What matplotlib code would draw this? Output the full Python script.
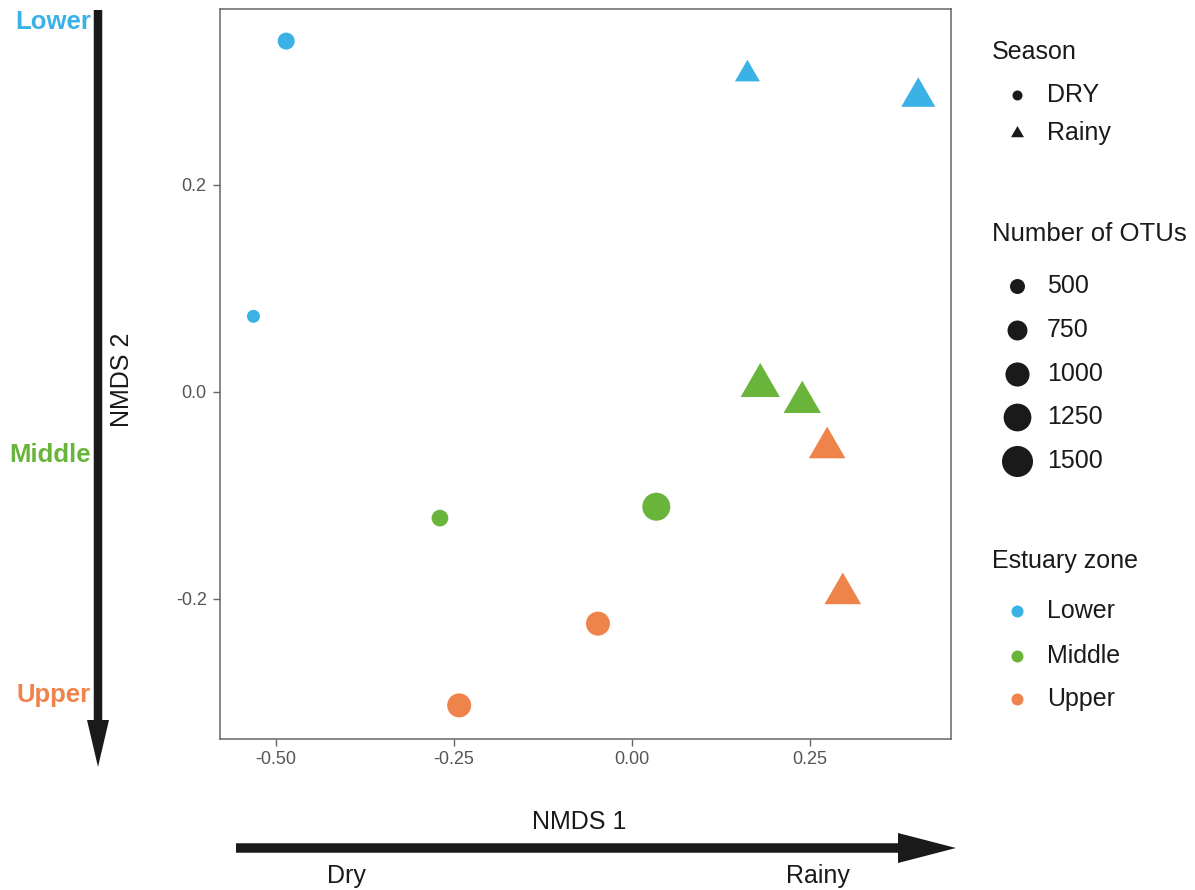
import numpy as np
import matplotlib
matplotlib.use("Agg")
import matplotlib.pyplot as plt
from matplotlib.path import Path

plt.rcParams['font.family'] = ['Liberation Sans', 'DejaVu Sans']

# ---------------- data ----------------
zone = ["Lower", "Lower", "Lower", "Lower",
        "Middle", "Middle", "Middle", "Middle",
        "Upper", "Upper", "Upper", "Upper"]
season = ["DRY", "DRY", "Rainy", "Rainy",
          "DRY", "DRY", "Rainy", "Rainy",
          "DRY", "DRY", "Rainy", "Rainy"]
nmds1 = [-0.486, -0.532, 0.162, 0.402,
         -0.270, 0.034, 0.180, 0.239,
         -0.048, -0.243, 0.274, 0.296]
nmds2 = [0.339, 0.073, 0.307, 0.285,
         -0.122, -0.111, 0.006, -0.010,
         -0.224, -0.303, -0.054, -0.195]
otus = [595, 412, 677, 1080,
        580, 1268, 1357, 1247,
        994, 994, 1210, 1210]

zone_levels = ["Lower", "Middle", "Upper"]
zone_colors = ["#3BB2E6", "#69B43A", "#EE844B"]
season_levels = ["DRY", "Rainy"]
otu_breaks = [500, 750, 1000, 1250, 1500]
x_ticks = [-0.50, -0.25, 0.00, 0.25]
y_ticks = [-0.2, 0.0, 0.2]

# ---------------- helpers ----------------
W, H, DPI = 1195, 890, 100
PX2PT = 72.0 / DPI

TRI = Path([(0, 1), (-np.sqrt(3) / 2, -0.5), (np.sqrt(3) / 2, -0.5), (0, 1)],
           [Path.MOVETO, Path.LINETO, Path.LINETO, Path.CLOSEPOLY])


def diam_px(n):
    return 0.98 * np.sqrt(np.asarray(n, float)) - 6.9


def marker_s(n, shape):
    d = diam_px(n)
    if shape == "Rainy":
        d = d * 1.555  # triangle circumradius equals 0.777 * circle diameter
    return (d * PX2PT) ** 2


marker_of = {"DRY": "o", "Rainy": TRI}
col_of = dict(zip(zone_levels, zone_colors))

fig = plt.figure(figsize=(W / DPI, H / DPI), dpi=DPI)
fig.patch.set_facecolor("white")

# main axes in pixel layout
L, R, T, B = 220, 951, 8.5, 738.5
ax = fig.add_axes([L / W, 1 - B / H, (R - L) / W, (B - T) / H])
ax.set_xlim(-0.579, 0.448)
ax.set_ylim(-0.335, 0.3705)

z = np.array(zone)
se = np.array(season)
x = np.array(nmds1)
y = np.array(nmds2)
o = np.array(otus)
for zl in zone_levels:
    for sl in season_levels:
        m = (z == zl) & (se == sl)
        if m.any():
            ax.scatter(x[m], y[m], s=marker_s(o[m], sl), marker=marker_of[sl],
                       color=col_of[zl], linewidths=0, zorder=3)

ax.set_xticks(x_ticks)
ax.set_xticklabels([f"{v:.2f}" for v in x_ticks])
ax.set_yticks(y_ticks)
ax.set_yticklabels([f"{v:.1f}" for v in y_ticks])
for sp in ax.spines.values():
    sp.set_color("#666666")
    sp.set_linewidth(1.1)
ax.tick_params(colors="#666666", labelcolor="#555555", labelsize=13,
               length=4.8, width=1.0)
ax.tick_params(axis="y", pad=4.8)
ax.tick_params(axis="x", pad=4)

# overlay axes in pixel coordinates for annotations / legends
ov = fig.add_axes([0, 0, 1, 1], zorder=5)
ov.set_xlim(0, W)
ov.set_ylim(H, 0)
ov.axis("off")
ov.patch.set_alpha(0)

dark = "#1a1a1a"
# vertical arrow
ov.arrow(98, 10, 0, 757, width=8.5, head_width=22, head_length=47,
         length_includes_head=True, color=dark, linewidth=0)
# horizontal arrow
ov.arrow(236, 848, 720, 0, width=9.5, head_width=30, head_length=58,
         length_includes_head=True, color=dark, linewidth=0)

fs = 18
ov.text(122, 380, "NMDS 2", rotation=90, ha="center", va="center", fontsize=fs, color=dark)
ov.text(579, 822, "NMDS 1", ha="center", va="center", fontsize=fs, color=dark)
ov.text(346, 876, "Dry", ha="center", va="center", fontsize=fs, color=dark)
ov.text(818, 876, "Rainy", ha="center", va="center", fontsize=fs, color=dark)

zone_label_y = [22, 455, 695]
for zl, c, yy in zip(zone_levels, zone_colors, zone_label_y):
    ov.text(91, yy, zl, ha="right", va="center", fontsize=18.5, fontweight="bold", color=c)

# ---- legends ----
lx_title, lx_mark, lx_lab = 992, 1017, 1047
ov.text(lx_title, 52, "Season", ha="left", va="center", fontsize=fs, color=dark)
season_y = [95, 133]
for sl, yy in zip(season_levels, season_y):
    if sl == "DRY":
        ov.scatter([lx_mark], [yy], s=(10 * PX2PT) ** 2, marker="o", color=dark, linewidths=0)
    else:
        ov.scatter([lx_mark], [yy], s=(15 * PX2PT) ** 2, marker=TRI, color=dark, linewidths=0)
    ov.text(lx_lab, yy, sl, ha="left", va="center", fontsize=fs, color=dark)

ov.text(lx_title, 234, "Number of OTUs", ha="left", va="center", fontsize=18.5, color=dark)
otu_y = [286, 330, 374, 417, 461]
for b, yy in zip(otu_breaks, otu_y):
    ov.scatter([lx_mark], [yy], s=marker_s(b, "DRY"), marker="o", color=dark, linewidths=0)
    ov.text(lx_lab, yy, str(b), ha="left", va="center", fontsize=fs, color=dark)

ov.text(lx_title, 561, "Estuary zone", ha="left", va="center", fontsize=fs, color=dark)
zone_y = [611, 656, 699]
for zl, c, yy in zip(zone_levels, zone_colors, zone_y):
    ov.scatter([lx_mark], [yy], s=(12 * PX2PT) ** 2, marker="o", color=c, linewidths=0)
    ov.text(lx_lab, yy, zl, ha="left", va="center", fontsize=fs, color=dark)

fig.savefig("out.png", dpi=DPI, facecolor="white")
